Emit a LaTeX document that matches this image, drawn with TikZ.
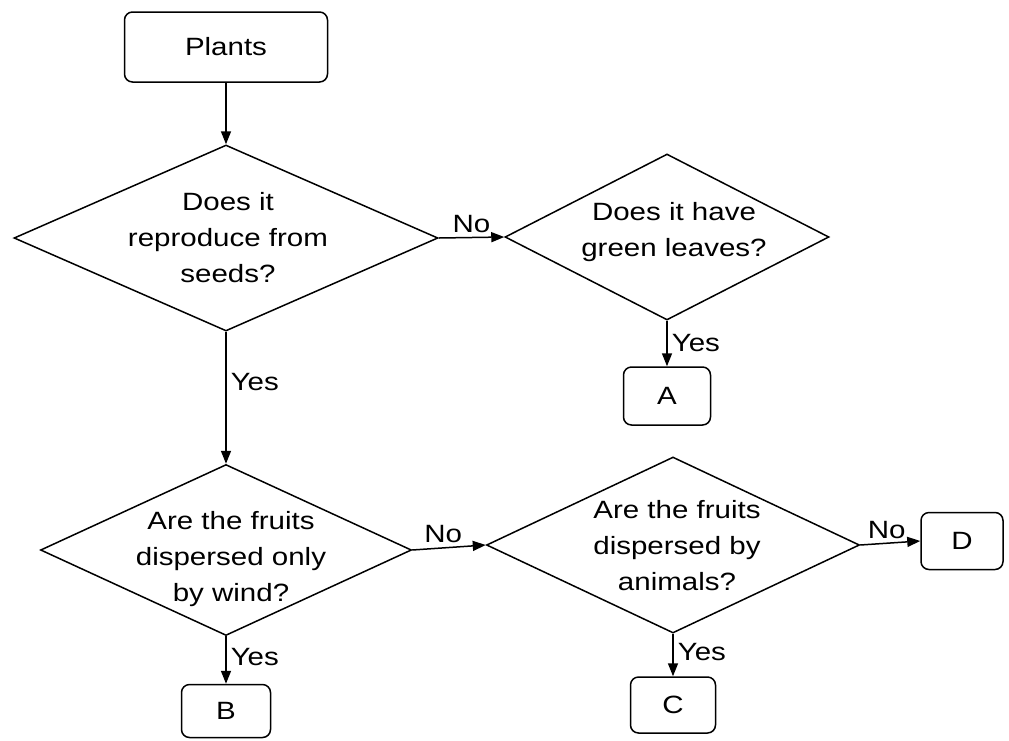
\documentclass[tikz,border=0pt]{standalone}
\usepackage{fontspec}
\setmainfont[FakeStretch=1.18]{Liberation Sans}
\usetikzlibrary{shapes.geometric,arrows.meta}
\begin{document}
\begin{tikzpicture}[x=1pt,y=-1pt,
  line width=1.5pt,
  font=\fontsize{25}{36}\selectfont,
  box/.style={draw, rounded corners=8pt, inner sep=0pt},
  decision/.style={draw, diamond, inner sep=0pt},
  qtext/.style={align=center, inner sep=0pt},
  flow/.style={-{Triangle[length=13pt,width=10pt]}},
  lbl/.style={inner sep=4pt}]
\useasboundingbox (0,0) rectangle (1009,740);

% start box
\node[box, minimum width=203pt, minimum height=70pt] (plants) at (226,47) {Plants};

% decisions
\node[decision, minimum width=424pt, minimum height=186pt] (d1) at (226,238) {};
\node[qtext] (t1) at (228,238) {Does it\\reproduce from\\seeds?};

\node[decision, minimum width=324pt, minimum height=166pt] (d2) at (667,237) {};
\node[qtext] (t2) at (674,232) {Does it have\\green leaves?};

\node[decision, minimum width=371pt, minimum height=171pt] (d3) at (226,550) {};
\node[qtext] (t3) at (231,559) {Are the fruits\\dispersed only\\by wind?};

\node[decision, minimum width=373pt, minimum height=176pt] (d4) at (673,545) {};
\node[qtext] (t4) at (677,546) {Are the fruits\\dispersed by\\animals?};

% outcome boxes
\node[box, minimum width=87pt, minimum height=58pt] (A) at (667,396) {A};
\node[box, minimum width=89pt, minimum height=53pt] (B) at (226,711) {B};
\node[box, minimum width=85pt, minimum height=56pt] (C) at (673,705) {C};
\node[box, minimum width=82pt, minimum height=57pt] (D) at (962,541) {D};

% connectors
\draw[flow] (plants.south) -- (d1.north);
\draw[flow] (d1.east) -- node[lbl, above, pos=0.5] {No} (d2.west);
\draw[flow] (d2.south) -- node[lbl, right, pos=0.5] {Yes} (A.north);
\draw[flow] (d1.south) -- node[lbl, right, pos=0.38] {Yes} (d3.north);
\draw[flow] (d3.east) -- node[lbl, above, pos=0.42] {No} (d4.west);
\draw[flow] (d3.south) -- node[lbl, right, pos=0.44] {Yes} (B.north);
\draw[flow] (d4.east) -- node[lbl, above, pos=0.44] {No} (D.west);
\draw[flow] (d4.south) -- node[lbl, right, pos=0.44] {Yes} (C.north);
\end{tikzpicture}
\end{document}
